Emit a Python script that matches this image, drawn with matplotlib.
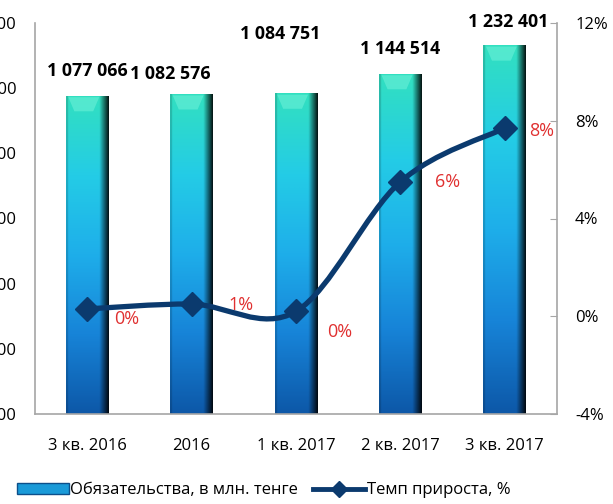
import numpy as np
import matplotlib
matplotlib.use("Agg")
import matplotlib.pyplot as plt
from matplotlib.path import Path
from matplotlib.patches import PathPatch, Rectangle
from matplotlib.lines import Line2D
from matplotlib.colors import LinearSegmentedColormap

plt.rcParams['font.family'] = ['Open Sans', 'DejaVu Sans']

# data
categories = ["3 кв. 2016", "2016", "1 кв. 2017", "2 кв. 2017", "3 кв. 2017"]
liabilities = [1077066, 1082576, 1084751, 1144514, 1232401]
growth = [0.3, 0.5, 0.2, 5.5, 7.7]           # %
growth_labels = ["0%", "1%", "0%", "6%", "8%"]
value_labels = ["1 077 066", "1 082 576", "1 084 751", "1 144 514", "1 232 401"]
left_ticks = [100000, 300000, 500000, 700000, 900000, 1100000, 1300000]
right_ticks = [-4, 0, 4, 8, 12]

fig = plt.figure(figsize=(6.13, 5.04), dpi=100)
ax = fig.add_axes([35 / 613, 1 - 414 / 504, 522 / 613, 391 / 504])
ax2 = ax.twinx()

x = np.arange(len(categories))
bar_w = 0.41
ymin, ymax = left_ticks[0], left_ticks[-1]

# gradient bars
vert = LinearSegmentedColormap.from_list(
    "bar", ["#0d58a8", "#1784d8", "#1eaeea", "#24cce6", "#32e0c0"])
ny, nx = 200, 60
col = vert(np.linspace(0, 1, ny))[:, :3]
u = np.linspace(0, 1, nx)
shade = np.ones(nx)
shade = np.where(u > 0.78, 1 - (u - 0.78) / 0.22 * 0.9, shade)
shade = np.where(u < 0.05, 0.85, shade)
img = col[:, None, :] * shade[None, :, None]

bars = ax.bar(x, liabilities, width=bar_w, color="none", edgecolor="none", zorder=2)
for b in bars:
    x0, w, h = b.get_x(), b.get_width(), b.get_height()
    im = ax.imshow(img, origin="lower", aspect="auto",
                   extent=[x0, x0 + w, ymin, h], zorder=2, interpolation="bilinear")
    im.set_clip_path(b)
    # light bevel at top
    top_h = (ymax - ymin) * 0.04
    ax.fill([x0 + w * 0.06, x0 + w * 0.78, x0 + w * 0.64, x0 + w * 0.2],
            [h - top_h * 0.1, h - top_h * 0.1, h - top_h, h - top_h],
            color="#70f2da", alpha=0.55, zorder=3, lw=0)
ax.set_xlim(-0.5, len(categories) - 0.5)
ax.set_ylim(ymin, ymax)
ax2.set_ylim(-4, 12)

# value labels
label_pos = [(0.0, 1077066 + 75000), (0.8, 1082576 + 62000), (1.85, 1084751 + 180000),
             (3.0, 1144514 + 75000), (4.03, 1232401 + 72000)]
for (lx, ly), t in zip(label_pos, value_labels):
    ax.text(lx, ly, t, ha="center", va="center", fontsize=12.8,
            fontweight="bold", color="black", zorder=5, clip_on=False)

# smoothed growth line (Catmull-Rom as Bezier)
pts = np.column_stack([x, growth]).astype(float)
verts = [pts[0]]
codes = [Path.MOVETO]
for i in range(len(pts) - 1):
    p0 = pts[max(i - 1, 0)]
    p1 = pts[i]
    p2 = pts[i + 1]
    p3 = pts[min(i + 2, len(pts) - 1)]
    c1 = p1 + (p2 - p0) / 6
    c2 = p2 - (p3 - p1) / 6
    verts += [c1, c2, p2]
    codes += [Path.CURVE4] * 3
ax2.add_patch(PathPatch(Path(verts, codes), fill=False, edgecolor="#0b3a6e",
                        lw=3.8, zorder=4, capstyle="round"))
ax2.plot(x, growth, ls="none", marker="D", ms=12, color="#0b3a6e", zorder=5)

gl_pos = [(0.38, -0.12), (1.47, 0.45), (2.42, -0.65), (3.45, 5.5), (4.35, 7.6)]
for (lx, ly), t in zip(gl_pos, growth_labels):
    ax2.text(lx, ly, t, ha="center", va="center", fontsize=13,
             color="#e03030", zorder=6)

# axes styling
spine_c = "#a6a6a6"
for a in (ax, ax2):
    a.spines["top"].set_visible(False)
    for s in ("left", "right", "bottom"):
        a.spines[s].set_color(spine_c)
        a.spines[s].set_linewidth(1.2)
ax.spines["right"].set_visible(False)
ax2.spines["left"].set_visible(False)
ax2.spines["bottom"].set_visible(False)

ax.set_xticks(x)
ax.set_xticklabels(categories, fontsize=12)
ax.tick_params(axis="x", length=0, pad=17)
ax.set_yticks(left_ticks)
ax.set_yticklabels([f"{v:,}".replace(",", " ") for v in left_ticks], fontsize=12)
ax.tick_params(axis="y", length=0, pad=13.5)

ax2.set_yticks(right_ticks)
ax2.set_yticklabels([f"{v}%" for v in right_ticks], fontsize=12)
ax2.tick_params(axis="y", direction="in", length=5, color=spine_c, pad=13)

# legend
h1 = Rectangle((0, 0), 1, 0.6, facecolor="#1a9ad8", edgecolor="#0d4f8a")
h2 = Line2D([], [], color="#0b3a6e", lw=3.5, marker="D", ms=8)
fig.legend([h1, h2], ["Обязательства, в млн. тенге", "Темп прироста, %"],
           loc="center", bbox_to_anchor=(0.43, 0.027), ncol=2, frameon=False,
           fontsize=12, handlelength=3.1, handletextpad=0.1, columnspacing=0.9)

fig.savefig("out.png", dpi=100)
